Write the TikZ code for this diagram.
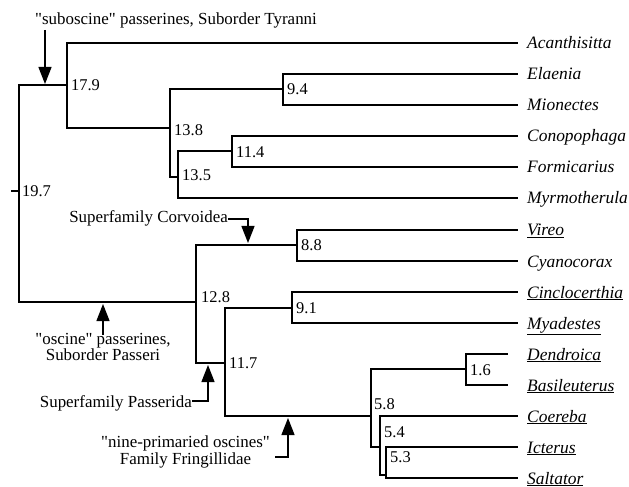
\documentclass[tikz,border=0pt]{standalone}
\usepackage{fontspec}
\setmainfont{Liberation Serif}
\usetikzlibrary{arrows.meta}
\newcommand\txtfont{\fontsize{17}{16.5}\selectfont}
\newcommand\numfont{\fontsize{16.5}{18}\selectfont}
\newcommand\leaffont{\fontsize{17.5}{20}\selectfont\itshape}
\newcommand\qq{\textquotedbl}
\tikzset{
  x=1bp, y=-1bp,
  br/.style={line width=1.3bp, line cap=rect},
  num/.style={font=\numfont, inner sep=0pt, anchor=west},
  leaf/.style={font=\leaffont, inner sep=0pt, anchor=base west},
  ann/.style={font=\txtfont, inner sep=0pt, align=center},
  arr/.style={line width=1.3bp, -{Triangle[width=13bp,length=17bp]}},
}
\begin{document}
\begin{tikzpicture}
\useasboundingbox (0,0) rectangle (629,487);
% leaf line ends
\coordinate (e1) at (517,43);
\coordinate (e2) at (517,74);
\coordinate (e3) at (517,105);
\coordinate (e4) at (517,136);
\coordinate (e5) at (517,167);
\coordinate (e6) at (517,198);
\coordinate (e7) at (517,230);
\coordinate (e8) at (517,261);
\coordinate (e9) at (517,292);
\coordinate (e10) at (517,323);
\coordinate (e11) at (507,354);
\coordinate (e12) at (507,385);
\coordinate (e13) at (517,416);
\coordinate (e14) at (517,447);
\coordinate (e15) at (517,478);
% leaf labels
\node[leaf] (l1) at (527,49) {Acanthisitta};
\node[leaf] (l2) at (527,80) {Elaenia};
\node[leaf] (l3) at (527,111) {Mionectes};
\node[leaf] (l4) at (527,142) {Conopophaga};
\node[leaf] (l5) at (527,173) {Formicarius};
\node[leaf] (l6) at (527,204) {Myrmotherula};
\node[leaf] (l7) at (527,236) {\underline{Vireo}};
\node[leaf] (l8) at (527,267) {Cyanocorax};
\node[leaf] (l9) at (527,298) {\underline{Cinclocerthia}};
\node[leaf] (l10) at (527,329) {\underline{Myadestes}};
\node[leaf] (l11) at (527,360) {\underline{Dendroica}};
\node[leaf] (l12) at (527,391) {\underline{Basileuterus}};
\node[leaf] (l13) at (527,422) {\underline{Coereba}};
\node[leaf] (l14) at (527,453) {\underline{Icterus}};
\node[leaf] (l15) at (527,484) {\underline{Saltator}};
% internal junctions
\coordinate (rt) at (19,85);
\coordinate (rb) at (19,302);
\coordinate (rtick) at (12,191);
\coordinate (rmid) at (19,191);
\coordinate (n179) at (67,85);
\coordinate (n138) at (170,128);
\coordinate (n94) at (283,89);
\coordinate (n135) at (178,177);
\coordinate (n114) at (232,151);
\coordinate (n128) at (196,302);
\coordinate (n88) at (297,245);
\coordinate (n117) at (225,363);
\coordinate (n91) at (292,308);
\coordinate (n58) at (371,416);
\coordinate (n16) at (466,369);
\coordinate (n54) at (380,447);
\coordinate (n53) at (386,475);
% branches
\draw[br] (n179) -- (rt) -- (rb) -- (n128);
\draw[br] (rtick) -- (rmid);
\draw[br] (e1) -| (n179) |- (n138);
\draw[br] (n94) -| (n138) |- (n135);
\draw[br] (e2) -| (n94) |- (e3);
\draw[br] (n114) -| (n135) |- (e6);
\draw[br] (e4) -| (n114) |- (e5);
\draw[br] (n88) -| (n128) |- (n117);
\draw[br] (e7) -| (n88) |- (e8);
\draw[br] (n91) -| (n117) |- (n58);
\draw[br] (e9) -| (n91) |- (e10);
\draw[br] (n16) -| (n58) |- (n54);
\draw[br] (e11) -| (n16) |- (e12);
\draw[br] (e13) -| (n54) |- (n53);
\draw[br] (e14) -| (n53) |- (e15);
% node ages
\node[num] (a197) at (22,191) {19.7};
\node[num] (a179) at (71,85) {17.9};
\node[num] (a138) at (174,130) {13.8};
\node[num] (a94) at (287,89) {9.4};
\node[num] (a135) at (182,175) {13.5};
\node[num] (a114) at (236,152) {11.4};
\node[num] (a128) at (201,297) {12.8};
\node[num] (a88) at (301,245) {8.8};
\node[num] (a117) at (229,363) {11.7};
\node[num] (a91) at (296,308) {9.1};
\node[num] (a58) at (374,404) {5.8};
\node[num] (a16) at (470,370) {1.6};
\node[num] (a54) at (384,432) {5.4};
\node[num] (a53) at (390,457) {5.3};
% annotations
\node[ann, anchor=base west] (t1) at (35,25) {\qq suboscine\qq{} passerines, Suborder Tyranni};
\coordinate (t1a) at (45,30);
\coordinate (t1b) at (45,84);
\draw[arr] (t1a) -- (t1b);

\node[ann, anchor=base east] (t2) at (228,223) {Superfamily Corvoidea};
\coordinate (t2k) at (248,219);
\coordinate (t2b) at (248,243);
\draw[arr] (t2.east |- t2k) -- (t2k) -- (t2b);

\node[ann, anchor=north] (t3) at (103,333) {\qq oscine\qq{} passerines,\\Suborder Passeri};
\coordinate (t3a) at (103,335);
\coordinate (t3b) at (103,304);
\draw[arr] (t3a) -- (t3b);

\node[ann, anchor=base east] (t4) at (192,407) {Superfamily Passerida};
\coordinate (t4k) at (208,401);
\coordinate (t4b) at (208,365);
\draw[arr] (t4.east |- t4k) -- (t4k) -- (t4b);

\node[ann, anchor=east] (t5) at (270,452) {\qq nine-primaried oscines\qq\\Family Fringillidae};
\coordinate (t5s) at (275,457);
\coordinate (t5k) at (288,457);
\coordinate (t5b) at (288,418);
\draw[arr] (t5s) -- (t5k) -- (t5b);
\end{tikzpicture}
\end{document}
